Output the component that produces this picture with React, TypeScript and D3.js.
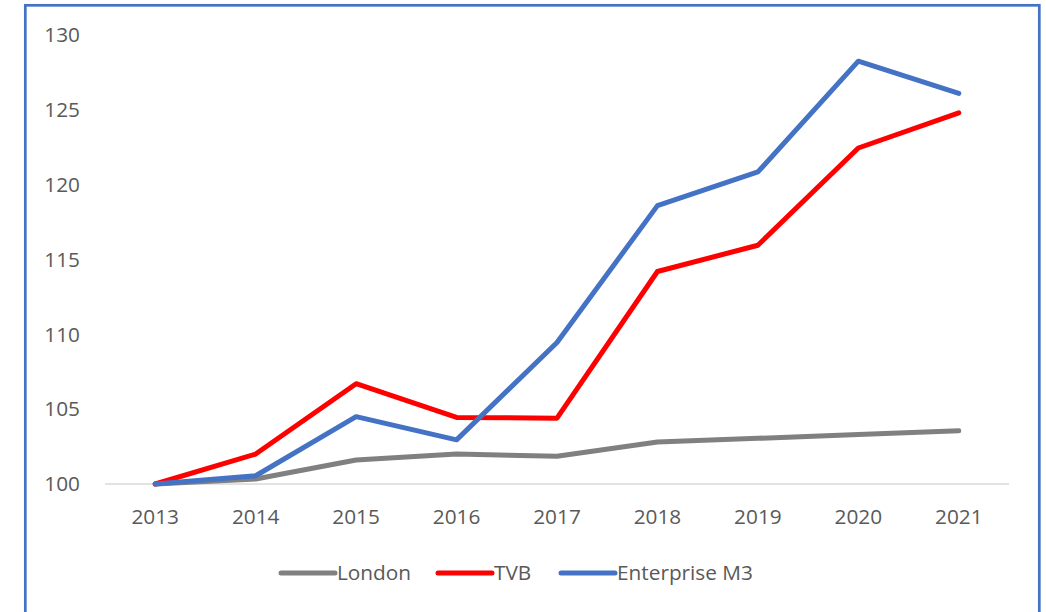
import React from 'react'
import * as d3 from 'd3'

const years = ['2013', '2014', '2015', '2016', '2017', '2018', '2019', '2020', '2021']
const yTicks = [100, 105, 110, 115, 120, 125, 130]

const london = [100, 100.33, 101.6, 102.0, 101.85, 102.8, 103.05, 103.3, 103.55]
const tvb = [100, 102.0, 106.7, 104.45, 104.4, 114.2, 115.95, 122.45, 124.8]
const enterpriseM3 = [100, 100.55, 104.5, 102.95, 109.45, 118.6, 120.85, 128.25, 126.1]

const seriesNames = ['London', 'TVB', 'Enterprise M3']
const seriesColors = ['#808080', '#ff0000', '#4472c4']

const W = 1046
const H = 612
const FONT = '"Open Sans", "Segoe UI", sans-serif'
const FS = 20.8
const TEXT = '#595959'

export default function App() {
  const allSeries = [london, tvb, enterpriseM3]

  const x = d3.scalePoint<string>().domain(years).range([105, 1009]).padding(0.5)
  const y = d3.scaleLinear().domain([100, 130]).range([484, 35])

  const line = d3.line<number>()
    .x((_, i) => x(years[i])!)
    .y(d => y(d))

  // legend layout: line sample then label
  const legendX = [280, 437, 560]

  return (
    <svg width={W} height={H} style={{ position: 'absolute', left: 0, top: 0, background: '#fff' }}>
      <rect x={25.3} y={5.3} width={1014} height={640} fill="#fff" stroke="#4472c4" strokeWidth={2.7} />

      {/* baseline */}
      <line x1={105} x2={1009} y1={y(100)} y2={y(100)} stroke="#d9d9d9" strokeWidth={1.5} />

      {/* y labels */}
      {yTicks.map(t => (
        <text key={t} x={80} y={y(t)} dy="0.35em" textAnchor="end" fontFamily={FONT} fontSize={FS} fill={TEXT}>
          {t}
        </text>
      ))}

      {/* x labels */}
      {years.map(yr => (
        <text key={yr} x={x(yr)!} y={517} dy="0.35em" textAnchor="middle" fontFamily={FONT} fontSize={FS} fill={TEXT}>
          {yr}
        </text>
      ))}

      {allSeries.map((s, i) => (
        <path key={seriesNames[i]} d={line(s)!} fill="none" stroke={seriesColors[i]} strokeWidth={5}
          strokeLinejoin="round" strokeLinecap="round" />
      ))}

      {/* legend */}
      {seriesNames.map((n, i) => (
        <g key={n} transform={`translate(${legendX[i]},573)`}>
          <line x1={1} x2={55} y1={0} y2={0} stroke={seriesColors[i]} strokeWidth={5} strokeLinecap="round" />
          <text x={57} y={0} dy="0.35em" fontFamily={FONT} fontSize={FS} fill={TEXT}>{n}</text>
        </g>
      ))}
    </svg>
  )
}
